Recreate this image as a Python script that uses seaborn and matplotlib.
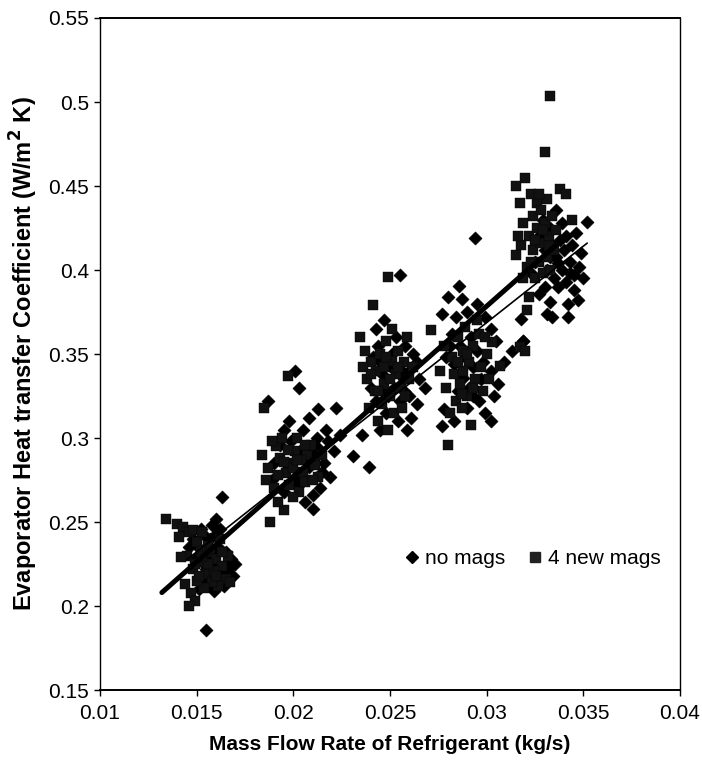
import numpy as np
import pandas as pd
import matplotlib
matplotlib.use("Agg")
import matplotlib.pyplot as plt
import seaborn as sns
from matplotlib.lines import Line2D

# ---------------- data ----------------
# series "no mags" (diamonds)
nomag_x = [
    0.0155, 0.0163, 0.0160, 0.0158, 0.0162, 0.0154, 0.0157, 0.0150, 0.0161, 0.0165,
    0.0168, 0.0156, 0.0152, 0.0159, 0.0163, 0.0166, 0.0170, 0.0155, 0.0149, 0.0153,
    0.0157, 0.0161, 0.0164, 0.0151, 0.0159, 0.0146, 0.0148, 0.0169,
    0.0158, 0.0154, 0.0166, 0.0160, 0.0152,
    0.0187, 0.0201, 0.0203, 0.0213, 0.0222, 0.0208, 0.0198, 0.0195, 0.0205, 0.0212,
    0.0218, 0.0221, 0.0216, 0.0214, 0.0219, 0.0210, 0.0206, 0.0200, 0.0195, 0.0190,
    0.0193, 0.0199, 0.0204, 0.0208, 0.0202, 0.0211, 0.0217, 0.0189, 0.0210, 0.0224,
    0.0207, 0.0197, 0.0213, 0.0203, 0.0215,
    0.0255, 0.02355, 0.0231, 0.0239, 0.0245, 0.0259, 0.0268, 0.0264, 0.0261, 0.0254,
    0.0248, 0.0243, 0.0240, 0.0246, 0.0250, 0.0256, 0.0262, 0.0258, 0.0253, 0.0244,
    0.0241, 0.0252, 0.0257, 0.0260, 0.0249, 0.0264, 0.0255, 0.0247, 0.0243, 0.0265,
    0.0251, 0.0247, 0.0257, 0.0260, 0.0245,
    0.0294, 0.02857, 0.0280, 0.0287, 0.0277, 0.0313, 0.0319, 0.0277, 0.0302, 0.0278,
    0.0284, 0.0290, 0.0295, 0.0299, 0.0302, 0.0305, 0.0292, 0.0286, 0.0282, 0.0279,
    0.0283, 0.0289, 0.0293, 0.0298, 0.0302, 0.0306, 0.0296, 0.0291, 0.0285, 0.0290,
    0.0299, 0.0283, 0.0304, 0.0309,
    0.0288, 0.0295, 0.0297, 0.0281, 0.0293,
    0.0352, 0.0333, 0.0342, 0.0347, 0.0318, 0.0331, 0.0334, 0.0342, 0.0319, 0.0337,
    0.0341, 0.0345, 0.0348, 0.0343, 0.0339, 0.0335, 0.0330, 0.0327, 0.0336, 0.0340,
    0.0344, 0.0338, 0.0334, 0.0330, 0.0327, 0.0333, 0.0339, 0.0346, 0.0349, 0.0325,
    0.0323, 0.0345, 0.0350, 0.0329, 0.0336,
    0.0331, 0.0337, 0.0341, 0.0333, 0.0343,
]
nomag_y = [
    0.186, 0.265, 0.252, 0.248, 0.246, 0.242, 0.240, 0.236, 0.235, 0.232,
    0.228, 0.229, 0.227, 0.225, 0.220, 0.222, 0.225, 0.222, 0.228, 0.217,
    0.213, 0.218, 0.212, 0.210, 0.209, 0.235, 0.240, 0.218,
    0.232, 0.215, 0.226, 0.243, 0.246,
    0.322, 0.340, 0.330, 0.317, 0.318, 0.312, 0.310, 0.305, 0.305, 0.300,
    0.298, 0.292, 0.285, 0.270, 0.277, 0.266, 0.262, 0.275, 0.268, 0.285,
    0.296, 0.298, 0.293, 0.283, 0.278, 0.291, 0.305, 0.275, 0.258, 0.302,
    0.288, 0.282, 0.294, 0.272, 0.280,
    0.397, 0.302, 0.289, 0.283, 0.305, 0.305, 0.330, 0.320, 0.312, 0.310,
    0.315, 0.322, 0.330, 0.338, 0.343, 0.340, 0.350, 0.355, 0.360, 0.355,
    0.348, 0.330, 0.335, 0.325, 0.325, 0.345, 0.322, 0.370, 0.365, 0.335,
    0.350, 0.330, 0.328, 0.340, 0.345,
    0.419, 0.3905, 0.384, 0.383, 0.374, 0.352, 0.358, 0.307, 0.310, 0.317,
    0.372, 0.375, 0.380, 0.372, 0.365, 0.358, 0.360, 0.355, 0.362, 0.348,
    0.344, 0.348, 0.342, 0.345, 0.340, 0.332, 0.322, 0.330, 0.328, 0.318,
    0.315, 0.310, 0.325, 0.345,
    0.336, 0.352, 0.335, 0.355, 0.325,
    0.4286, 0.381, 0.380, 0.382, 0.371, 0.374, 0.372, 0.372, 0.358, 0.390,
    0.393, 0.397, 0.402, 0.405, 0.400, 0.395, 0.390, 0.386, 0.408, 0.412,
    0.415, 0.418, 0.415, 0.412, 0.420, 0.425, 0.428, 0.422, 0.410, 0.405,
    0.398, 0.388, 0.395, 0.430, 0.436,
    0.400, 0.404, 0.420, 0.408, 0.398,
]

# series "4 new mags" (squares)
newmag_x = [
    0.0134, 0.0140, 0.0143, 0.0146, 0.0148, 0.0141, 0.0150, 0.0145, 0.0142, 0.0148,
    0.0152, 0.0155, 0.0157, 0.0160, 0.0163, 0.0166, 0.0165, 0.0161, 0.0158, 0.0154,
    0.0150, 0.0147, 0.0149, 0.0146, 0.0151, 0.0156, 0.0162, 0.0153, 0.0159, 0.0167,
    0.0144, 0.0152,
    0.0156, 0.0160, 0.0153, 0.0163, 0.0149,
    0.0188, 0.0195, 0.0197, 0.0185, 0.0184, 0.0187, 0.0186, 0.0190, 0.0192, 0.0191,
    0.0194, 0.0193, 0.0196, 0.0199, 0.0201, 0.0198, 0.0203, 0.0205, 0.0207, 0.0202,
    0.0209, 0.0211, 0.0206, 0.0213, 0.0200, 0.0189, 0.0215, 0.0204, 0.0197, 0.0192,
    0.0200, 0.0206, 0.0195, 0.0210, 0.0202,
    0.0249, 0.0241, 0.02345, 0.0259, 0.0237, 0.0240, 0.0243, 0.0238, 0.0242, 0.0245,
    0.0248, 0.0251, 0.0253, 0.0247, 0.0250, 0.0255, 0.0257, 0.0254, 0.0246, 0.0252,
    0.0256, 0.0260, 0.0244, 0.0249, 0.0239, 0.0258, 0.0262, 0.0236, 0.0251, 0.0247,
    0.0250, 0.0244, 0.0254, 0.0240, 0.0248,
    0.0271, 0.0280, 0.0292, 0.0307, 0.0278, 0.0282, 0.0285, 0.0288, 0.0291, 0.0283,
    0.0279, 0.0286, 0.0290, 0.0294, 0.0297, 0.0293, 0.0296, 0.0289, 0.0284, 0.0281,
    0.0287, 0.0298, 0.0300, 0.0295, 0.0276, 0.0301, 0.0303, 0.0288,
    0.0290, 0.0285, 0.0293, 0.0287, 0.0299,
    0.03328, 0.0330, 0.0320, 0.0315, 0.0338, 0.0341, 0.0317, 0.0344, 0.0315, 0.0322,
    0.0321, 0.0317, 0.0320, 0.0323, 0.0326, 0.0324, 0.0328, 0.0331, 0.0319, 0.0322,
    0.0326, 0.0330, 0.0334, 0.0318, 0.0324, 0.0328, 0.0332, 0.0336, 0.0321, 0.0327,
    0.0331, 0.0335, 0.0325, 0.0329, 0.0333, 0.0319, 0.0316,
    0.0327, 0.0325, 0.0329, 0.0323, 0.0332,
]
newmag_y = [
    0.252, 0.249, 0.247, 0.244, 0.245, 0.241, 0.238, 0.230, 0.229, 0.222,
    0.226, 0.219, 0.232, 0.228, 0.224, 0.230, 0.216, 0.212, 0.214, 0.211,
    0.215, 0.208, 0.203, 0.200, 0.218, 0.236, 0.240, 0.244, 0.221, 0.214,
    0.213, 0.233,
    0.225, 0.218, 0.230, 0.232, 0.225,
    0.250, 0.257, 0.337, 0.318, 0.290, 0.282, 0.275, 0.270, 0.262, 0.295,
    0.300, 0.288, 0.279, 0.285, 0.292, 0.272, 0.268, 0.280, 0.290, 0.300,
    0.296, 0.284, 0.274, 0.277, 0.265, 0.298, 0.290, 0.287, 0.293, 0.278,
    0.282, 0.296, 0.286, 0.275, 0.287,
    0.396, 0.379, 0.360, 0.360, 0.352, 0.345, 0.340, 0.335, 0.328, 0.350,
    0.358, 0.346, 0.338, 0.332, 0.325, 0.330, 0.345, 0.352, 0.320, 0.315,
    0.318, 0.335, 0.310, 0.305, 0.318, 0.325, 0.342, 0.342, 0.365, 0.342,
    0.335, 0.328, 0.342, 0.338, 0.348,
    0.364, 0.296, 0.308, 0.343, 0.355, 0.348, 0.360, 0.352, 0.345, 0.338,
    0.330, 0.332, 0.325, 0.335, 0.342, 0.355, 0.362, 0.366, 0.322, 0.315,
    0.318, 0.328, 0.350, 0.370, 0.340, 0.335, 0.357, 0.340,
    0.350, 0.345, 0.330, 0.326, 0.360,
    0.5036, 0.470, 0.455, 0.450, 0.448, 0.445, 0.440, 0.430, 0.409, 0.384,
    0.376, 0.354, 0.352, 0.445, 0.440, 0.432, 0.436, 0.442, 0.428, 0.420,
    0.425, 0.428, 0.432, 0.415, 0.412, 0.416, 0.420, 0.424, 0.402, 0.405,
    0.408, 0.412, 0.395, 0.398, 0.400, 0.395, 0.420,
    0.445, 0.418, 0.424, 0.405, 0.414,
]

# linear trend lines (end points)
fit_nomag_x = [0.0145, 0.0352]
fit_nomag_y = [0.2277, 0.4160]
fit_newmag_x = [0.0132, 0.0336]
fit_newmag_y = [0.2080, 0.4150]

series_labels = ["no mags", "4 new mags"]
x_ticks = [0.01, 0.015, 0.02, 0.025, 0.03, 0.035, 0.04]
x_tick_labels = ["0.01", "0.015", "0.02", "0.025", "0.03", "0.035", "0.04"]
y_ticks = [0.15, 0.2, 0.25, 0.3, 0.35, 0.4, 0.45, 0.5, 0.55]
y_tick_labels = ["0.15", "0.2", "0.25", "0.3", "0.35", "0.4", "0.45", "0.5", "0.55"]

# ---------------- plotting ----------------
sns.set_theme(style="white")
plt.rcParams["font.family"] = ["Liberation Sans", "DejaVu Sans"]
plt.rcParams["text.color"] = "black"
plt.rcParams["axes.labelcolor"] = "black"

df = pd.concat([
    pd.DataFrame({"x": nomag_x, "y": nomag_y, "series": series_labels[0]}),
    pd.DataFrame({"x": newmag_x, "y": newmag_y, "series": series_labels[1]}),
], ignore_index=True)

fig = plt.figure(figsize=(7.02, 7.62), dpi=100)
ax = fig.add_axes([100 / 702, 72 / 762, 580 / 702, 672 / 762])

sns.scatterplot(data=df[df.series == series_labels[0]], x="x", y="y",
                marker="D", s=46, color="black", edgecolor="black",
                linewidth=0.3, ax=ax, legend=False, zorder=2)
sns.scatterplot(data=df[df.series == series_labels[1]], x="x", y="y",
                marker="s", s=60, color="#111111", edgecolor="black",
                linewidth=0.3, ax=ax, legend=False, zorder=2)

sns.lineplot(x=fit_newmag_x, y=fit_newmag_y, color="black", linewidth=3.6,
             ax=ax, zorder=3)
sns.lineplot(x=fit_nomag_x, y=fit_nomag_y, color="black", linewidth=1.2,
             ax=ax, zorder=4)

ax.set_xlim(0.01, 0.04)
ax.set_ylim(0.15, 0.55)
ax.set_xticks(x_ticks)
ax.set_xticklabels(x_tick_labels)
ax.set_yticks(y_ticks)
ax.set_yticklabels(y_tick_labels)
ax.tick_params(axis="both", which="both", direction="out", length=4, width=1,
               labelsize=15, color="black", labelcolor="black",
               left=True, bottom=True, top=False, right=False)
ax.tick_params(axis="x", pad=6)
ax.tick_params(axis="y", pad=4)
for side in ["left", "bottom", "top", "right"]:
    ax.spines[side].set_visible(True)
    ax.spines[side].set_color("black")
ax.spines["left"].set_linewidth(1.0)
ax.spines["right"].set_linewidth(1.0)
ax.spines["top"].set_linewidth(1.4)
ax.spines["bottom"].set_linewidth(1.4)

ax.set_xlabel("Mass Flow Rate of Refrigerant (kg/s)", fontsize=15,
              fontweight="bold", labelpad=9, color="black")
ax.set_ylabel("Evaporator Heat transfer Coefficient (W/m$^\\mathbf{2}$ K)",
              fontsize=17, fontweight="bold", labelpad=6, color="black")

handles = [
    Line2D([], [], marker="D", color="black", linestyle="none", markersize=6),
    Line2D([], [], marker="s", color="#222222", linestyle="none", markersize=7),
]
leg = ax.legend(handles, series_labels, loc="center", bbox_to_anchor=(0.745, 0.195),
                ncol=2, frameon=False, fontsize=15, handletextpad=0.25,
                columnspacing=1.0, handlelength=0.8)
for t in leg.get_texts():
    t.set_color("black")

fig.savefig("out.png", dpi=100)
